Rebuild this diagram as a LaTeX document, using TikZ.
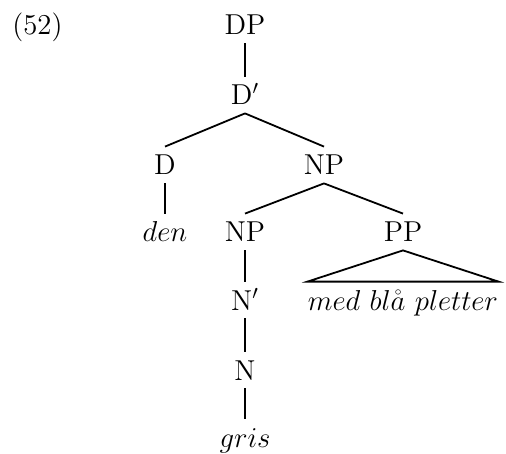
\documentclass[tikz,border=0pt]{standalone}
\begin{document}
\begin{tikzpicture}[x=0.5pt,y=-0.5pt,
  lab/.style={font=\fontsize{14.4}{17}\selectfont, text height=10pt, text depth=0pt, inner sep=4pt, anchor=base},
  edge/.style={line width=0.9pt}]
\useasboundingbox (0,0) rectangle (506,453);
\node[lab, anchor=base west, inner sep=0pt] (ex) at (12,35) {(52)};
\node[lab] (dp) at (245,35) {DP};
\node[lab] (dbar) at (245,105) {D$'$};
\node[lab] (d) at (165,175) {D};
\node[lab] (np) at (324,175) {NP};
\node[lab] (den) at (165,242) {$den$};
\node[lab] (np2) at (245,242) {NP};
\node[lab] (pp) at (403,242) {PP};
\node[lab] (nbar) at (245,310) {N$'$};
\node[lab, inner xsep=0pt] (med) at (403,310) {$med\ bl\mathring{a}\ pletter$};
\node[lab] (n) at (245,380) {N};
\node[lab] (gris) at (245,447) {$gris$};
\draw[edge] (dp.south) -- (dbar.north);
\draw[edge] (dbar.south) -- (d.north);
\draw[edge] (dbar.south) -- (np.north);
\draw[edge] (d.south) -- (den.north);
\draw[edge] (np.south) -- (np2.north);
\draw[edge] (np.south) -- (pp.north);
\draw[edge] (np2.south) -- (nbar.north);
\draw[edge] (nbar.south) -- (n.north);
\draw[edge] (n.south) -- (gris.north);
\draw[edge] (pp.south) -- (med.north west) -- (med.north east) -- cycle;
\end{tikzpicture}
\end{document}
